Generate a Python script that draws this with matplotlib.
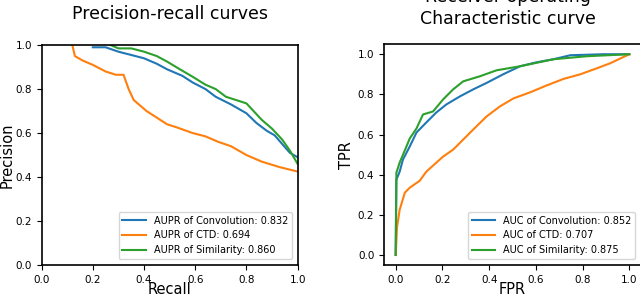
import matplotlib
matplotlib.use("Agg")
import matplotlib.pyplot as plt

# ---- Precision-recall data ----
pr_conv_recall = [0.20, 0.25, 0.30, 0.35, 0.40, 0.45, 0.49, 0.55, 0.59, 0.64, 0.68, 0.74, 0.80, 0.84, 0.88, 0.91, 0.94, 0.97, 1.00]
pr_conv_prec   = [0.99, 0.99, 0.97, 0.955, 0.94, 0.915, 0.89, 0.86, 0.83, 0.80, 0.765, 0.73, 0.69, 0.645, 0.61, 0.59, 0.55, 0.51, 0.49]

pr_ctd_recall = [0.12, 0.13, 0.16, 0.20, 0.25, 0.29, 0.32, 0.34, 0.36, 0.38, 0.41, 0.45, 0.49, 0.53, 0.59, 0.64, 0.69, 0.74, 0.80, 0.86, 0.93, 1.00]
pr_ctd_prec   = [1.00, 0.95, 0.93, 0.91, 0.88, 0.865, 0.865, 0.80, 0.75, 0.73, 0.70, 0.67, 0.64, 0.625, 0.60, 0.585, 0.56, 0.54, 0.50, 0.47, 0.445, 0.425]

pr_sim_recall = [0.27, 0.30, 0.35, 0.40, 0.45, 0.49, 0.54, 0.59, 0.64, 0.68, 0.72, 0.80, 0.86, 0.90, 0.94, 0.97, 1.00]
pr_sim_prec   = [1.00, 0.985, 0.985, 0.97, 0.95, 0.925, 0.89, 0.856, 0.82, 0.80, 0.765, 0.735, 0.66, 0.62, 0.57, 0.52, 0.46]

# ---- ROC data ----
roc_conv_fpr = [0.0, 0.003, 0.017, 0.031, 0.06, 0.089, 0.131, 0.174, 0.217, 0.275, 0.332, 0.389, 0.46, 0.532, 0.604, 0.675, 0.747, 0.89, 1.0]
roc_conv_tpr = [0.0, 0.375, 0.415, 0.475, 0.54, 0.61, 0.66, 0.71, 0.75, 0.79, 0.825, 0.857, 0.90, 0.94, 0.96, 0.975, 0.995, 1.0, 1.0]

roc_ctd_fpr = [0.0, 0.006, 0.017, 0.039, 0.06, 0.103, 0.131, 0.174, 0.203, 0.246, 0.289, 0.332, 0.389, 0.446, 0.504, 0.575, 0.647, 0.718, 0.79, 0.861, 0.918, 1.0]
roc_ctd_tpr = [0.0, 0.14, 0.225, 0.31, 0.335, 0.37, 0.415, 0.46, 0.49, 0.525, 0.575, 0.625, 0.69, 0.74, 0.78, 0.81, 0.845, 0.877, 0.90, 0.93, 0.955, 1.0]

roc_sim_fpr = [0.0, 0.003, 0.017, 0.046, 0.06, 0.089, 0.117, 0.16, 0.203, 0.246, 0.289, 0.36, 0.432, 0.532, 0.675, 0.818, 1.0]
roc_sim_tpr = [0.0, 0.41, 0.46, 0.54, 0.58, 0.63, 0.70, 0.715, 0.775, 0.825, 0.865, 0.89, 0.92, 0.94, 0.975, 0.99, 1.0]

pr_labels = ["AUPR of Convolution: 0.832", "AUPR of CTD: 0.694", "AUPR of Similarity: 0.860"]
roc_labels = ["AUC of Convolution: 0.852", "AUC of CTD: 0.707", "AUC of Similarity: 0.875"]
colors = ["#1f77b4", "#ff7f0e", "#2ca02c"]
ticks = [0.0, 0.2, 0.4, 0.6, 0.8, 1.0]

fig = plt.figure(figsize=(6.4, 2.96), dpi=100)
ax1 = fig.add_axes([0.065, 0.1047, 0.400, 0.743])
ax2 = fig.add_axes([0.600, 0.1047, 0.4016, 0.746])

for ax in (ax1, ax2):
    for s in ax.spines.values():
        s.set_linewidth(1.2)
    ax.tick_params(labelsize=7.5)
    ax.set_xticks(ticks)
    ax.set_yticks(ticks)

# PR curves
ax1.plot(pr_conv_recall, pr_conv_prec, color=colors[0], lw=1.5, label=pr_labels[0])
ax1.plot(pr_ctd_recall, pr_ctd_prec, color=colors[1], lw=1.5, label=pr_labels[1])
ax1.plot(pr_sim_recall, pr_sim_prec, color=colors[2], lw=1.5, label=pr_labels[2])
ax1.set_xlim(0, 1)
ax1.set_ylim(0, 1)
ax1.set_xlabel("Recall", fontsize=10.5, labelpad=-2)
ax1.set_ylabel("Precision", fontsize=10.5)
ax1.yaxis.set_label_coords(-0.104, 0.5)
ax1.set_title("Precision-recall curves", fontsize=12.5, pad=19)
ax1.legend(loc="lower right", fontsize=7, handlelength=2.4, borderaxespad=0.6)

# ROC curves
ax2.plot(roc_conv_fpr, roc_conv_tpr, color=colors[0], lw=1.5, label=roc_labels[0])
ax2.plot(roc_ctd_fpr, roc_ctd_tpr, color=colors[1], lw=1.5, label=roc_labels[1])
ax2.plot(roc_sim_fpr, roc_sim_tpr, color=colors[2], lw=1.5, label=roc_labels[2])
ax2.set_xlim(-0.05, 1.05)
ax2.set_ylim(-0.05, 1.05)
ax2.set_xlabel("FPR", fontsize=10.5, labelpad=-2)
ax2.set_ylabel("TPR", fontsize=10.5, labelpad=2.5)
ax2.legend(loc="lower right", fontsize=7, handlelength=2.4, borderaxespad=0.6)

fig.text(508 / 640, 1 - 2 / 296, "Receiver operating", ha="center", va="baseline", fontsize=12.5)
fig.text(508 / 640, 1 - 23.5 / 296, "Characteristic curve", ha="center", va="baseline", fontsize=12.5)

fig.savefig("out.png", dpi=100)
